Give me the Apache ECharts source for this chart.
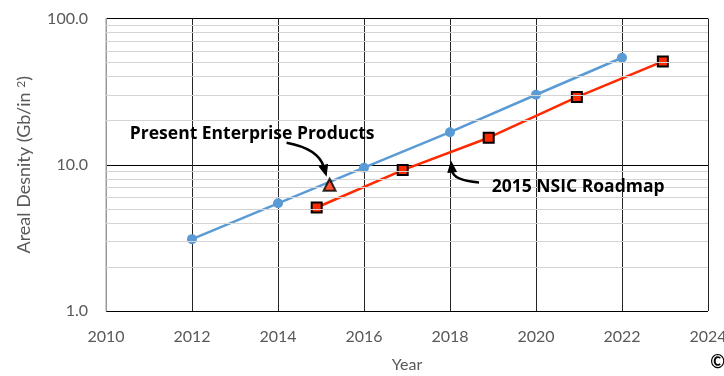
<!DOCTYPE html>
<html>
<head>
<meta charset="utf-8">
<script src="https://cdn.jsdelivr.net/npm/echarts@6/dist/echarts.min.js"></script>
<style>
  html, body { margin: 0; padding: 0; background: #fff; }
  #chart { width: 724px; height: 376px; }
</style>
</head>
<body>
<div id="chart"></div>
<script>
// Areal density trend (log scale), current products vs. 2015 NSIC roadmap
const yearMin = 2010;
const yearMax = 2024;
const yearStep = 2;

const currentYears = [2012, 2014, 2016, 2018, 2020, 2022];
const currentDensity = [3.1, 5.45, 9.55, 16.7, 30.1, 53.9];

const roadmapYears = [2014.9, 2016.9, 2018.9, 2020.95, 2022.95];
const roadmapDensity = [5.1, 9.2, 15.3, 29.0, 50.9];

const productYears = [2015.2];
const productDensity = [7.3];

const minorGridValues = [2, 3, 4, 5, 6, 7, 8, 9, 20, 30, 40, 50, 60, 70, 80, 90];

const productLabel = 'Present Enterprise Products';
const roadmapLabel = '2015 NSIC Roadmap';

const FONT = 'Lato, "Liberation Sans", sans-serif';
const BOLD_FONT = '"Open Sans", Lato, sans-serif';
const GREY_TEXT = '#595959';

const pairs = (xs, ys) => xs.map((x, i) => [x, ys[i]]);

const chart = echarts.init(document.getElementById('chart'), null, { renderer: 'canvas' });

chart.setOption({
  animation: false,
  backgroundColor: '#ffffff',
  grid: {
    left: 106, right: 16, top: 18.5, bottom: 65,
    containLabel: false,
    outerBoundsMode: 'none'
  },
  xAxis: {
    type: 'value',
    min: yearMin,
    max: yearMax,
    interval: yearStep,
    name: 'Year',
    nameLocation: 'middle',
    nameGap: 46,
    nameTextStyle: { color: GREY_TEXT, fontSize: 16, fontFamily: FONT },
    axisLine: { show: false },
    axisTick: { show: false },
    axisLabel: {
      color: GREY_TEXT, fontSize: 16, fontFamily: FONT, margin: 18,
      formatter: v => String(Math.round(v))
    },
    splitLine: { show: true, lineStyle: { color: '#262626', width: 1 } }
  },
  yAxis: {
    type: 'log',
    logBase: 10,
    min: 1,
    max: 100,
    name: 'Areal Desnity (Gb/in {sup|2})',
    nameLocation: 'middle',
    nameGap: 73,
    nameTextStyle: {
      color: GREY_TEXT, fontSize: 18, fontFamily: FONT,
      rich: { sup: { color: GREY_TEXT, fontSize: 12, fontFamily: FONT, verticalAlign: 'top', padding: [0, 0, 6, 0] } }
    },
    axisLine: { show: true, onZero: false, lineStyle: { color: '#bfbfbf', width: 1.5 } },
    axisTick: { show: false },
    axisLabel: {
      color: GREY_TEXT, fontSize: 16, fontFamily: FONT, margin: 18,
      formatter: v => Number(v).toFixed(1)
    },
    splitLine: { show: true, lineStyle: { color: '#000000', width: 1 } }
  },
  series: [
    {
      // minor gridlines of the log axis
      type: 'line',
      data: [],
      z: 1,
      silent: true,
      markLine: {
        silent: true,
        symbol: ['none', 'none'],
        label: { show: false },
        lineStyle: { color: '#d4d4d4', width: 1, type: 'solid' },
        data: minorGridValues.map(v => ({ yAxis: v }))
      }
    },
    {
      name: 'Current',
      type: 'line',
      z: 3,
      data: pairs(currentYears, currentDensity),
      symbol: 'circle',
      symbolSize: 10,
      lineStyle: { color: '#5b9bd5', width: 2.5 },
      itemStyle: { color: '#5b9bd5' }
    },
    {
      name: 'Roadmap',
      type: 'line',
      z: 4,
      data: pairs(roadmapYears, roadmapDensity),
      symbol: 'rect',
      symbolSize: 10,
      lineStyle: { color: '#ff2a00', width: 2.5 },
      itemStyle: { color: '#ff2a00', borderColor: '#000000', borderWidth: 2 }
    },
    {
      name: 'Products',
      type: 'scatter',
      z: 5,
      data: pairs(productYears, productDensity),
      symbol: 'triangle',
      symbolSize: 12,
      itemStyle: { color: '#ff2a00', borderColor: '#000000', borderWidth: 2 }
    }
  ]
});

// Annotation callouts placed from data coordinates
function px(x, y) { return chart.convertToPixel({ gridIndex: 0 }, [x, y]); }

function arrow(start, ctrl, tip) {
  const ang = Math.atan2(tip[1] - ctrl[1], tip[0] - ctrl[0]);
  const len = 12, half = 5;
  const bx = tip[0] - len * Math.cos(ang), by = tip[1] - len * Math.sin(ang);
  const nx = -Math.sin(ang), ny = Math.cos(ang);
  const shaftEnd = [tip[0] - (len - 2) * Math.cos(ang), tip[1] - (len - 2) * Math.sin(ang)];
  return [
    {
      type: 'bezierCurve',
      silent: true,
      shape: { x1: start[0], y1: start[1], cpx1: ctrl[0], cpy1: ctrl[1], x2: shaftEnd[0], y2: shaftEnd[1] },
      style: { stroke: '#000', lineWidth: 2.5, fill: null },
      z: 100
    },
    {
      type: 'polygon',
      silent: true,
      shape: { points: [tip, [bx + nx * half, by + ny * half], [bx - nx * half, by - ny * half]] },
      style: { fill: '#000' },
      z: 100
    }
  ];
}

const triP = px(productYears[0], productDensity[0]);
const tip1 = [triP[0] - 3, triP[1] - 8];
const arrow1 = arrow([tip1[0] - 40, tip1[1] - 34], [tip1[0] - 8, tip1[1] - 28], tip1);

const roadP = px(2018, 10.7);
const tip2 = [roadP[0] + 1, roadP[1]];
const arrow2 = arrow([tip2[0] + 28, tip2[1] + 22], [tip2[0] + 2, tip2[1] + 20], tip2);

const txt1 = px(2013.4, 16.2);
const txt2 = px(2020.98, 7.02);
const corner = chart.getWidth();

chart.setOption({
  graphic: [
    ...arrow1,
    ...arrow2,
    {
      type: 'text', silent: true, z: 101,
      x: txt1[0], y: txt1[1],
      style: { text: productLabel, fill: '#000', font: 'bold 17.5px ' + BOLD_FONT, align: 'center', verticalAlign: 'middle' }
    },
    {
      type: 'text', silent: true, z: 101,
      x: txt2[0], y: txt2[1],
      style: { text: roadmapLabel, fill: '#000', font: 'bold 17.5px ' + BOLD_FONT, align: 'center', verticalAlign: 'middle' }
    },
    {
      type: 'text', silent: true, z: 101,
      x: corner + 1, y: 362,
      style: { text: '\u00A9', fill: '#000', font: 'bold 18px ' + FONT, align: 'right', verticalAlign: 'middle' }
    }
  ]
});
</script>
</body>
</html>
